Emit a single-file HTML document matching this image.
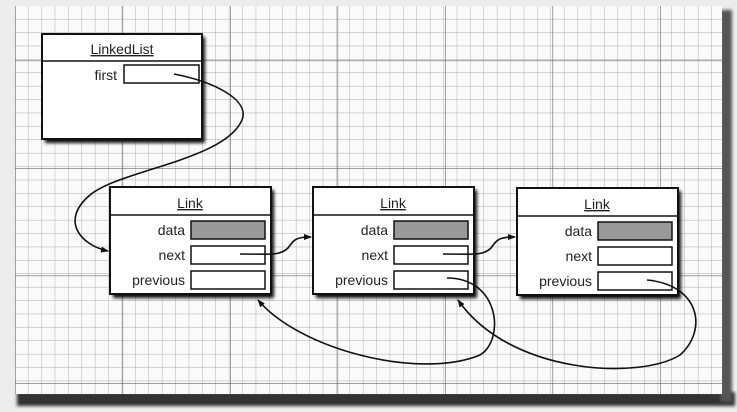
<!DOCTYPE html>
<html><head><style>
body{margin:0;width:737px;height:412px;background:#e9e9e9;overflow:hidden}
svg{display:block}
text{font-family:"Liberation Sans",Arial,sans-serif;font-size:14px;fill:#222}
</style></head><body>
<svg width="737" height="412" viewBox="0 0 737 412">
<defs>
<pattern id="minor" x="15" y="6" width="13.4" height="13.4" patternUnits="userSpaceOnUse">
<path d="M13.4 0V13.4H0" fill="none" stroke="#aaa" stroke-width="0.9"/>
</pattern>
<pattern id="major" x="15" y="-47" width="107.5" height="107.5" patternUnits="userSpaceOnUse">
<path d="M0 0V107.5M0 0H107.5" fill="none" stroke="#666" stroke-width="1.2"/>
</pattern>
<marker id="ah" markerWidth="8" markerHeight="6" refX="7" refY="3" orient="auto" markerUnits="userSpaceOnUse">
<path d="M0 0L8 3L0 6z" fill="#111"/>
</marker>
<filter id="sh" x="-10%" y="-10%" width="130%" height="130%"><feGaussianBlur stdDeviation="1.5"/></filter>
</defs>
<rect x="0" y="0" width="737" height="412" fill="#ececec"/>
<rect x="17" y="392" width="718" height="14" fill="#333" filter="url(#sh)"/>
<rect x="720" y="10" width="12" height="392" fill="#555" filter="url(#sh)"/>
<rect x="15" y="6" width="707" height="388" fill="#fafafa"/>
<rect x="15" y="6" width="707" height="388" fill="url(#minor)"/>
<rect x="15" y="6" width="707" height="388" fill="url(#major)"/>

<rect x="45" y="37" width="160" height="106" fill="#111" filter="url(#sh)"/>
<rect x="42" y="34" width="160" height="105" fill="#fff" stroke="#111" stroke-width="2"/>
<line x1="42" y1="61" x2="202" y2="61" stroke="#111" stroke-width="1.5"/>
<text x="122" y="54" text-anchor="middle" text-decoration="underline">LinkedList</text>
<text x="117" y="80" text-anchor="end">first</text>
<rect x="124" y="65" width="75" height="18" fill="#fff" stroke="#111" stroke-width="1.5"/>

<g id="l1">
<rect x="113" y="190" width="161" height="108" fill="#111" filter="url(#sh)"/>
<rect x="110" y="187" width="161" height="107" fill="#fff" stroke="#111" stroke-width="2"/>
<line x1="110" y1="215" x2="271" y2="215" stroke="#111" stroke-width="1.5"/>
<text x="190" y="208" text-anchor="middle" text-decoration="underline">Link</text>
<text x="185" y="235" text-anchor="end">data</text>
<text x="185" y="260" text-anchor="end">next</text>
<text x="185" y="285" text-anchor="end">previous</text>
<rect x="191" y="221" width="74" height="18" fill="#999" stroke="#111" stroke-width="1.5"/>
<rect x="191" y="246" width="74" height="18" fill="#fff" stroke="#111" stroke-width="1.5"/>
<rect x="191" y="271" width="74" height="18" fill="#fff" stroke="#111" stroke-width="1.5"/>
</g>
<use href="#l1" x="203" y="0"/>
<use href="#l1" x="407" y="1"/>

<g fill="none" stroke="#111" stroke-width="1.6">
<path d="M174 74 C215 82 250 100 242 120 C225 160 120 170 90 195 C60 220 80 245 108 251" marker-end="url(#ah)"/>
<path d="M240 254 C270 254 280 256 288 248 C294 240 295 237 311 237" marker-end="url(#ah)"/>
<path d="M443 254 C473 254 483 256 491 248 C497 240 498 237 515 237" marker-end="url(#ah)"/>
<path d="M447 278 C500 278 505 340 480 355 C420 380 300 350 258 300" marker-end="url(#ah)"/>
<path d="M647 280 C700 285 708 330 680 355 C640 380 510 375 458 300" marker-end="url(#ah)"/>
</g>
</svg>
</body></html>
